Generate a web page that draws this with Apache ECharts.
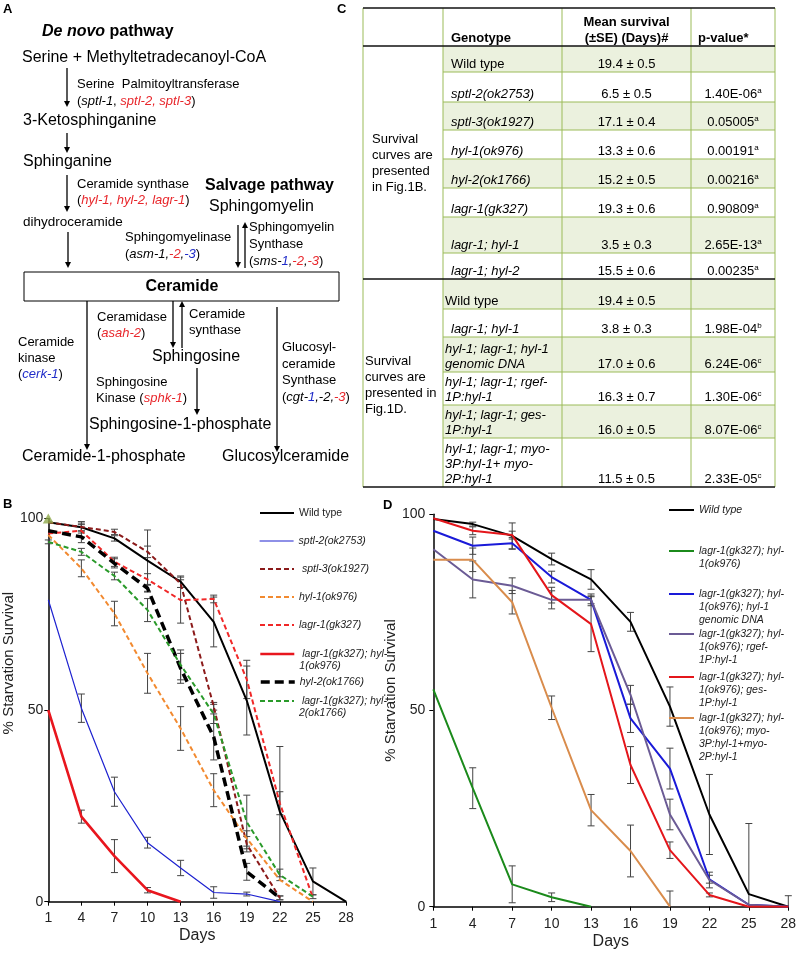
<!DOCTYPE html>
<html><head><meta charset="utf-8">
<script src="https://cdn.jsdelivr.net/npm/echarts@6.0.0/dist/echarts.min.js"></script>
<style>html,body{margin:0;padding:0;background:#fff}#c{width:797px;height:953px}</style>
</head><body><div id="c"></div>
<script>
const FONT = '"Liberation Sans", Arial, Helvetica, sans-serif';

// ---------- shared x categories ----------
const days = ['1','4','7','10','13','16','19','22','25','28'];

// ---------- Panel B values (% survival) ----------
const bWild      = [99, 97.7, 94.8, 89, 83.5, 73, 52.5, 23.5, 5.3, 0];
const bSptl2     = [78.8, 50.5, 28.7, 15.4, 8.8, 2.4, 2.0, 0, null, null];
const bSptl3     = [99, 97.8, 96.5, 91.3, 83, 51, 15, 1, null, null];
const bHyl1      = [95.7, 87, 75.2, 59.6, 45.2, 29.1, 16.5, 5.7, 0, null];
const bLagr1     = [96.1, 96.8, 88.7, 84.1, 78.7, 79, 58, 25.7, 1, null];
const bLagrHyl1  = [50, 22.2, 11.9, 3.0, 0, null, null, null, null, null];
const bHyl2      = [96.8, 95.2, 88.3, 81.8, 60.9, 43, 7.8, 1, null, null];
const bLagrHyl2  = [93.9, 91.3, 85, 76.1, 61.8, 49, 20.8, 7, 1.3, null];
const bTriangle  = [100, null, null, null, null, null, null, null, null, null];
// standard errors B
const bWildErr     = [0, 1.5, 0.7, 8, 1.5, 6.5, 9, 17, 3.5, 0];
const bSptl2Err    = [0, 3.7, 3.8, 1.4, 2, 1.5, 0.5, 0, 0, 0];
const bSptl3Err    = [0, 1, 0.7, 1.5, 1, 1, 2, 0.5, 0, 0];
const bHyl1Err     = [0, 2.2, 3.2, 5.2, 5.7, 4.3, 2, 0, 0, 0];
const bLagr1Err    = [0, 1.6, 1.2, 1.5, 6, 1, 5, 3, 0, 0];
const bLagrHyl1Err = [0, 1.7, 4.3, 0.7, 0, 0, 0, 0, 0, 0];
const bHyl2Err     = [0, 1.5, 1.2, 1, 3.9, 6, 2.2, 0.5, 0, 0];
const bLagrHyl2Err = [0.5, 0.9, 1, 3, 3.9, 2.5, 7, 1.5, 0.5, 0];

// ---------- Panel D values (% survival) ----------
const dWild     = [98.8, 97.5, 94.5, 88.6, 83.4, 72.6, 51, 23.5, 3.2, 0];
const dLagrHyl1 = [55.4, 30.2, 5.7, 2.4, 0, null, null, null, null, null];
const dGenomic  = [95.8, 92, 92.6, 84, 78.2, 48, 35.2, 7, 0.5, 0];
const dRgef     = [91.1, 83.4, 81.8, 78.2, 78.2, 54, 23.5, 6.8, 0.5, 0];
const dGes      = [99, 95.8, 94.7, 79.4, 72, 36.1, 14.4, 3, 0, 0];
const dMyo      = [88.4, 88.4, 77.6, 50.7, 24.6, 14.2, 0, null, null, null];
// standard errors D
const dWildErr     = [0, 0.5, 3.3, 1.5, 2.5, 2.4, 5, 10.2, 18, 2.8];
const dLagrHyl1Err = [0, 5.2, 4.7, 1.1, 0, 0, 0, 0, 0, 0];
const dGenomicErr  = [0, 2.2, 1.5, 1.5, 1, 3.6, 5.2, 1, 0, 0];
const dRgefErr     = [0, 4.7, 2, 2.3, 1.5, 2.4, 3.9, 2, 0, 0];
const dGesErr      = [0, 1, 1, 2, 7, 4.7, 2.1, 0.5, 0, 0];
const dMyoErr      = [0, 3, 3, 3, 4, 6.6, 4, 0, 0, 0];

// ---------- Panel C table ----------
const tblGenotype = ['Wild type','sptl-2(ok2753)','sptl-3(ok1927)','hyl-1(ok976)','hyl-2(ok1766)','lagr-1(gk327)','lagr-1; hyl-1','lagr-1; hyl-2',
  'Wild type','lagr-1; hyl-1','hyl-1; lagr-1; hyl-1\ngenomic DNA','hyl-1; lagr-1; rgef-\n1P:hyl-1','hyl-1; lagr-1; ges-\n1P:hyl-1','hyl-1; lagr-1; myo-\n3P:hyl-1+ myo-\n2P:hyl-1'];
const tblMean = ['19.4 ± 0.5','6.5 ± 0.5','17.1 ± 0.4','13.3 ± 0.6','15.2 ± 0.5','19.3 ± 0.6','3.5 ± 0.3','15.5 ± 0.6',
  '19.4 ± 0.5','3.8 ± 0.3','17.0 ± 0.6','16.3 ± 0.7','16.0 ± 0.5','11.5 ± 0.5'];
const tblP = ['','1.40E-06','0.05005','0.00191','0.00216','0.90809','2.65E-13','0.00235',
  '','1.98E-04','6.24E-06','1.30E-06','8.07E-06','2.33E-05'];
const tblSup = ['','a','a','a','a','a','a','a','','b','c','c','c','c'];
const tblHeader = ['Genotype','Mean survival\n(±SE) (Days)#','p-value*'];
const tblGroups = ['Survival\ncurves are\npresented\nin Fig.1B.','Survival\ncurves are\npresented in\nFig.1D.'];

// ---------- helpers ----------
function txt(x, y, text, size, extra) {
  return {type:'text', x:x, y:y, z:10, style:Object.assign({text:text, fontSize:size, fontFamily:FONT, fill:'#000',
    textAlign:'left', textVerticalAlign:'middle'}, extra || {})};
}
function rich(x, y, text, size) {
  const base = {fontSize:size, fontFamily:FONT};
  return txt(x, y, text, size, {rich:{
    n:Object.assign({fill:'#000'}, base),
    i:Object.assign({fill:'#000', fontStyle:'italic'}, base),
    r:Object.assign({fill:'#E8262B', fontStyle:'italic'}, base),
    b:Object.assign({fill:'#1F2BC8', fontStyle:'italic'}, base)
  }});
}
function arrow(x, y1, y2) {
  const dir = y2 > y1 ? 1 : -1, hl = 6, hw = 3;
  return [
    {type:'line', shape:{x1:x, y1:y1, x2:x, y2:y2 - dir*hl}, style:{stroke:'#000', lineWidth:1.3}},
    {type:'polygon', shape:{points:[[x, y2], [x - hw, y2 - dir*hl], [x + hw, y2 - dir*hl]]}, style:{fill:'#000'}}
  ];
}

// ---------- Panel A (pathway diagram) ----------
const G = [];
G.push(txt(3, 9, 'A', 13, {fontWeight:'bold'}));
G.push(txt(337, 9, 'C', 13, {fontWeight:'bold'}));
G.push(txt(3, 504, 'B', 13, {fontWeight:'bold'}));
G.push(txt(383, 505, 'D', 13, {fontWeight:'bold'}));
G.push(txt(42, 32, '{it|De novo} {bd|pathway}', 16, {fontWeight:'bold', rich:{
  it:{fontSize:16, fontFamily:FONT, fontWeight:'bold', fontStyle:'italic', fill:'#000'},
  bd:{fontSize:16, fontFamily:FONT, fontWeight:'bold', fill:'#000'}}}));
G.push(txt(22, 58, 'Serine + Methyltetradecanoyl-CoA', 16));
G.push(...arrow(67, 68, 107));
G.push(txt(77, 84, 'Serine  Palmitoyltransferase', 13));
G.push(rich(77, 101, '{n|(}{i|sptl-1}{n|, }{r|sptl-2, sptl-3}{n|)}', 13));
G.push(txt(23, 121, '3-Ketosphinganine', 16));
G.push(...arrow(67, 133, 153));
G.push(txt(23, 162, 'Sphinganine', 16));
G.push(...arrow(67, 175, 212));
G.push(txt(77, 184, 'Ceramide synthase', 13));
G.push(rich(77, 200, '{n|(}{r|hyl-1, hyl-2, lagr-1}{n|)}', 13));
G.push(txt(205, 186, 'Salvage pathway', 16, {fontWeight:'bold'}));
G.push(txt(209, 207, 'Sphingomyelin', 16));
G.push(txt(23, 222, 'dihydroceramide', 13.5));
G.push(...arrow(68, 232, 268));
G.push(txt(125, 237, 'Sphingomyelinase', 13));
G.push(rich(125, 254, '{n|(}{i|asm-1,}{r|-2}{i|,}{b|-3}{n|)}', 13));
G.push(...arrow(238, 225, 268));
G.push(...arrow(245, 268, 222));
G.push(txt(249, 227, 'Sphingomyelin', 13));
G.push(txt(249, 244, 'Synthase', 13));
G.push(rich(249, 261, '{n|(}{i|sms-}{b|1}{i|,}{r|-2}{i|,}{r|-3}{n|)}', 13));
G.push({type:'rect', shape:{x:24, y:272, width:315, height:29}, style:{fill:'#fff', stroke:'#000', lineWidth:1}});
G.push(txt(182, 287, 'Ceramide', 16, {fontWeight:'bold', textAlign:'center'}));
G.push(...arrow(87, 301, 450));
G.push(txt(18, 342, 'Ceramide', 13));
G.push(txt(18, 358, 'kinase', 13));
G.push(rich(18, 374, '{n|(}{b|cerk-1}{n|)}', 13));
G.push(...arrow(173, 301, 348));
G.push(...arrow(182, 348, 301));
G.push(txt(97, 317, 'Ceramidase', 13));
G.push(rich(97, 333, '{n|(}{r|asah-2}{n|)}', 13));
G.push(txt(189, 314, 'Ceramide', 13));
G.push(txt(189, 330, 'synthase', 13));
G.push(txt(152, 357, 'Sphingosine', 16));
G.push(...arrow(197, 368, 415));
G.push(txt(96, 382, 'Sphingosine', 13));
G.push(rich(96, 398, '{n|Kinase (}{r|sphk-1}{n|)}', 13));
G.push(txt(89, 425, 'Sphingosine-1-phosphate', 16));
G.push(...arrow(277, 307, 452));
G.push(txt(282, 347, 'Glucosyl-', 13));
G.push(txt(282, 364, 'ceramide', 13));
G.push(txt(282, 380, 'Synthase', 13));
G.push(rich(282, 397, '{n|(}{i|cgt-}{b|1}{i|,-2,}{r|-3}{n|)}', 13));
G.push(txt(22, 457, 'Ceramide-1-phosphate', 16));
G.push(txt(222, 457, 'Glucosylceramide', 16));

// ---------- Panel C (table) ----------
const colX = [363, 443, 562, 691, 775];
const rowY = [46, 72, 102, 130, 159, 188, 217, 253, 279, 309, 337, 372, 405, 438, 487];
const GREEN = '#9BBB59', SHADE = '#EBF1DE';
for (let i = 0; i < tblGenotype.length; i++) {
  if (i % 2 === 0) G.push({type:'rect', shape:{x:colX[1], y:rowY[i], width:colX[4]-colX[1], height:rowY[i+1]-rowY[i]}, style:{fill:SHADE}});
}
for (let i = 1; i < rowY.length - 1; i++) {
  if (rowY[i] === 279) continue;
  G.push({type:'line', shape:{x1:colX[1], y1:rowY[i], x2:colX[4], y2:rowY[i]}, style:{stroke:GREEN, lineWidth:1}});
}
colX.forEach(function (x) { G.push({type:'line', shape:{x1:x, y1:8, x2:x, y2:487}, style:{stroke:GREEN, lineWidth:1}}); });
[8, 46, 279, 487].forEach(function (y) { G.push({type:'line', shape:{x1:363, y1:y, x2:775, y2:y}, style:{stroke:'#111', lineWidth:1.5}}); });
G.push(txt(451, 38, tblHeader[0], 13, {fontWeight:'bold'}));
G.push(txt(626.5, 30, tblHeader[1], 13, {fontWeight:'bold', textAlign:'center', lineHeight:16}));
G.push(txt(698, 38, tblHeader[2], 13, {fontWeight:'bold'}));
G.push(txt(372, 163, tblGroups[0], 13, {lineHeight:16}));
G.push(txt(365, 385, tblGroups[1], 13, {lineHeight:16}));
for (let i = 0; i < tblGenotype.length; i++) {
  const yb = rowY[i+1] - 0.5;
  const indent = (i === 8 || i >= 10) ? 2 : 8;
  G.push(txt(colX[1] + indent, yb, tblGenotype[i], 13, {fontStyle: tblGenotype[i] === 'Wild type' ? 'normal' : 'italic',
    lineHeight:15, textVerticalAlign:'bottom'}));
  G.push(txt(626.5, yb, tblMean[i], 13, {lineHeight:15, textAlign:'center', textVerticalAlign:'bottom'}));
  if (tblP[i]) {
    G.push(txt(733, yb, '{p|' + tblP[i] + '}{s|' + tblSup[i] + '}', 13, {textAlign:'center', textVerticalAlign:'bottom', rich:{
      p:{fontSize:13, fontFamily:FONT, fill:'#000', lineHeight:15},
      s:{fontSize:8, fontFamily:FONT, fill:'#000', verticalAlign:'top', lineHeight:9}}}));
  }
}

// ---------- series definitions ----------
const bDefs = [
  {name:'Wild type', label:'Wild type', data:bWild, err:bWildErr, color:'#000000', width:2, dash:'solid', italic:false, ly:513},
  {name:'sptl-2(ok2753)', label:'sptl-2(ok2753)', data:bSptl2, err:bSptl2Err, color:'#1E22D0', width:1.2, dash:'solid', italic:true, ly:541},
  {name:'sptl-3(ok1927)', label:' sptl-3(ok1927)', data:bSptl3, err:bSptl3Err, color:'#8B1A1A', width:2, dash:[5,3], italic:true, ly:569},
  {name:'hyl-1(ok976)', label:'hyl-1(ok976)', data:bHyl1, err:bHyl1Err, color:'#F28A30', width:2, dash:[5,3], italic:true, ly:597},
  {name:'lagr-1(gk327)', label:'lagr-1(gk327)', data:bLagr1, err:bLagr1Err, color:'#F02828', width:2, dash:[5,3], italic:true, ly:625},
  {name:'lagr-1(gk327); hyl-1(ok976)', label:' lagr-1(gk327); hyl-\n1(ok976)', data:bLagrHyl1, err:bLagrHyl1Err, color:'#E8161E', width:2.6, dash:'solid', italic:true, ly:654},
  {name:'hyl-2(ok1766)', label:'hyl-2(ok1766)', data:bHyl2, err:bHyl2Err, color:'#000000', width:3.5, dash:[9,5], italic:true, ly:682},
  {name:'lagr-1(gk327); hyl-2(ok1766)', label:' lagr-1(gk327); hyl-\n2(ok1766)', data:bLagrHyl2, err:bLagrHyl2Err, color:'#2A9A2A', width:2, dash:[5,3], italic:true, ly:701}
];
const dDefs = [
  {name:'1D Wild type', label:'Wild type', data:dWild, err:dWildErr, color:'#000000', ly:510},
  {name:'1D lagr-1(gk327); hyl-1(ok976)', label:'lagr-1(gk327); hyl-\n1(ok976)', data:dLagrHyl1, err:dLagrHyl1Err, color:'#1B8A1B', ly:551},
  {name:'1D genomic DNA', label:'lagr-1(gk327); hyl-\n1(ok976); hyl-1\ngenomic DNA', data:dGenomic, err:dGenomicErr, color:'#1A1AD8', ly:594},
  {name:'1D rgef-1P:hyl-1', label:'lagr-1(gk327); hyl-\n1(ok976); rgef-\n1P:hyl-1', data:dRgef, err:dRgefErr, color:'#6B5B95', ly:634},
  {name:'1D ges-1P:hyl-1', label:'lagr-1(gk327); hyl-\n1(ok976); ges-\n1P:hyl-1', data:dGes, err:dGesErr, color:'#E4161B', ly:677},
  {name:'1D myo', label:'lagr-1(gk327); hyl-\n1(ok976); myo-\n3P:hyl-1+myo-\n2P:hyl-1', data:dMyo, err:dMyoErr, color:'#D98C4C', ly:718}
];

function errRender(params, api) {
  const i = api.value(0), v = api.value(1), e = api.value(2);
  const lo = Math.max(0, v - e);
  const t = api.coord([i, v + e]), b = api.coord([i, lo]);
  const w = 3.5, st = {stroke:'#444', lineWidth:1};
  const kids = [
    {type:'line', shape:{x1:t[0], y1:t[1], x2:b[0], y2:b[1]}, style:st},
    {type:'line', shape:{x1:t[0]-w, y1:t[1], x2:t[0]+w, y2:t[1]}, style:st}
  ];
  if (v - e >= 0) kids.push({type:'line', shape:{x1:b[0]-w, y1:b[1], x2:b[0]+w, y2:b[1]}, style:st});
  return {type:'group', children:kids};
}
const series = [];
const legends = [];
function addSet(defs, ax, lh, left, iw) {
  defs.forEach(function (s) {
    const errData = [];
    s.data.forEach(function (v, i) { if (v != null && s.err[i] > 0) errData.push([i, v, s.err[i]]); });
    series.push({type:'custom', name:s.name + ' SE', xAxisIndex:ax, yAxisIndex:ax, renderItem:errRender, data:errData,
      encode:{x:0, y:1}, z:2, silent:true, animation:false});
  });
  defs.forEach(function (s) {
    const w = s.width || 2;
    series.push({type:'line', name:s.name, xAxisIndex:ax, yAxisIndex:ax, data:s.data, symbol:'none', showSymbol:false,
      lineStyle:{color:s.color, width:w, type:s.dash || 'solid'}, itemStyle:{color:s.color}, z:3, silent:true, animation:false});
    const n = s.label.split('\n').length;
    const shown = ' \n'.repeat(n - 1) + s.label;
    legends.push({data:[s.name], left:left, top:s.ly - (n - 0.5) * lh, orient:'vertical', padding:0, itemGap:0,
      itemWidth:iw, itemHeight:lh, selectedMode:false, formatter:function () { return shown; },
      lineStyle:{width:w},
      itemStyle:{color:'rgba(0,0,0,0)', borderColor:'rgba(0,0,0,0)', borderWidth:0, opacity:0},
      textStyle:{fontSize:10.5, fontFamily:FONT, fontStyle:(ax === 1 || s.italic) ? 'italic' : 'normal', color:'#222',
        lineHeight:lh}});
  });
}
addSet(bDefs, 0, 12, 259, 34);
addSet(dDefs, 1, 13, 668, 25);
series.push({type:'scatter', name:'marker', xAxisIndex:0, yAxisIndex:0, data:bTriangle, symbol:'triangle', symbolSize:[11, 10],
  itemStyle:{color:'#8EA94B'}, z:5, silent:true, animation:false});

function xAx(grid, margin, gap) {
  return {gridIndex:grid, type:'category', data:days, boundaryGap:false,
    axisLine:{lineStyle:{color:'#000', width:1.5}}, axisTick:{length:4, lineStyle:{color:'#000'}},
    axisLabel:{interval:0, fontSize:14, fontFamily:FONT, color:'#222', margin:margin},
    name:'Days', nameLocation:'middle', nameGap:gap, nameTextStyle:{fontSize:16, fontFamily:FONT, color:'#222'},
    splitLine:{show:false}};
}
function yAx(grid, margin, gap, shift) {
  return {gridIndex:grid, type:'value', min:0, max:100, interval:50,
    axisLine:{show:true, lineStyle:{color:'#000', width:1.5}}, axisTick:{show:true, length:4, lineStyle:{color:'#000'}},
    axisLabel:{fontSize:14, fontFamily:FONT, color:'#222', margin:margin}, splitLine:{show:false},
    name:'% Starvation Survival', nameLocation:'middle', nameRotate:90, nameGap:gap,
    nameTextStyle:{fontSize:15, fontFamily:FONT, color:'#222', padding:[0, 0, 0, shift]}};
}

const chart = echarts.init(document.getElementById('c'), null, {renderer:'canvas'});
chart.setOption({
  backgroundColor:'#fff',
  animation:false,
  grid:[
    {left:48.3, top:518.5, width:297.7, height:383.2, outerBoundsMode:'none', containLabel:false},
    {left:433.3, top:514.3, width:355, height:392.4, outerBoundsMode:'none', containLabel:false}
  ],
  xAxis:[xAx(0, 9, 26), xAx(1, 10, 27)],
  yAxis:[yAx(0, 5, 32, 94), yAx(1, 8, 30, 40)],
  legend:legends,
  series:series,
  graphic:{elements:G}
});
</script>
</body></html>
